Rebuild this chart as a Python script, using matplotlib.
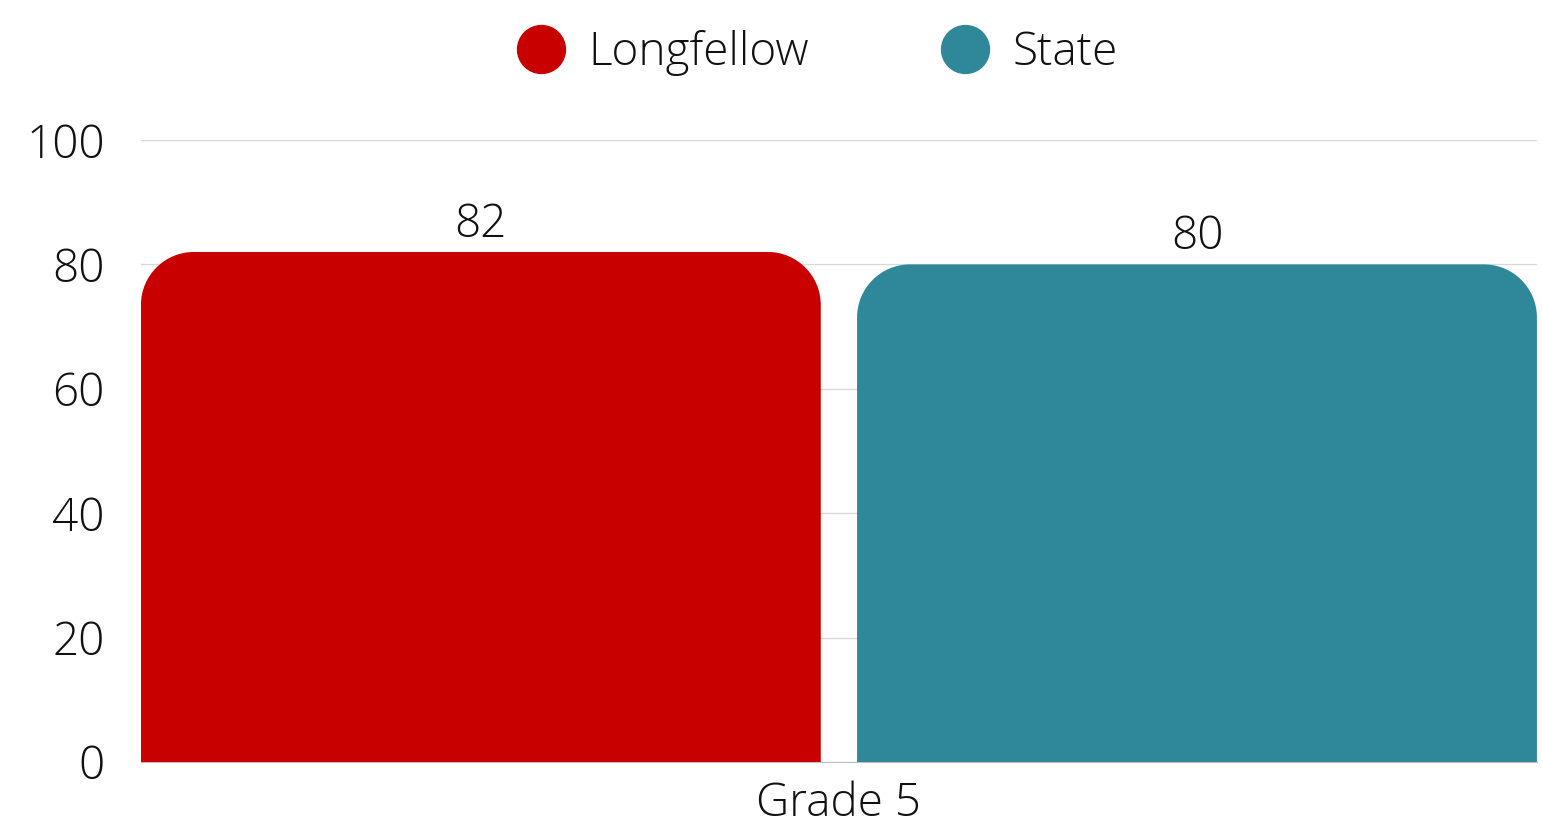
import matplotlib
matplotlib.use("Agg")
import matplotlib.pyplot as plt
from matplotlib.patches import PathPatch
from matplotlib.path import Path
from matplotlib.lines import Line2D

# Data
categories = ["Grade 5"]
series_names = ["Longfellow", "State"]
series_values = [82, 80]
colors = ["#C80000", "#2E8899"]
yticks = [0, 20, 40, 60, 80, 100]

plt.rcParams['font.family'] = ['Open Sans', 'DejaVu Sans']
plt.rcParams['font.weight'] = 300
fs = 33
tc = "#111111"

fig = plt.figure(figsize=(15.42, 8.26), dpi=100)
ax = fig.add_axes([0.0914, 0.0775, 0.9053, 0.753])

bar_w = 0.487
offsets = [-0.2565, 0.2565]
bars = []
for off, v, c in zip(offsets, series_values, colors):
    b = ax.bar([off], [v], width=bar_w, color=c, zorder=3)
    bars.append(b[0])

ax.set_xlim(-0.5, 0.5)
ax.set_ylim(0, 100)


def top_rounded(x0, w, h, rx, ry):
    # bar with round top corners, circular arcs (cubic approximations)
    k = 0.5523
    x1 = x0 + w
    verts = [(x0, 0), (x0, h - ry),
             (x0, h - ry + k * ry), (x0 + rx - k * rx, h), (x0 + rx, h),
             (x1 - rx, h),
             (x1 - rx + k * rx, h), (x1, h - ry + k * ry), (x1, h - ry),
             (x1, 0), (x0, 0)]
    codes = [Path.MOVETO, Path.LINETO,
             Path.CURVE4, Path.CURVE4, Path.CURVE4,
             Path.LINETO,
             Path.CURVE4, Path.CURVE4, Path.CURVE4,
             Path.LINETO, Path.CLOSEPOLY]
    return Path(verts, codes)


# pixel scale of the axes, so the corners come out circular
fig.canvas.draw()
bb = ax.get_window_extent()
px_x = bb.width / 1.0
px_y = bb.height / 100.0
r_px = 53
for rect, c in zip(bars, colors):
    x0 = rect.get_x()
    w = rect.get_width()
    h = rect.get_height()
    rect.set_visible(False)
    p = PathPatch(top_rounded(x0, w, h, r_px / px_x, r_px / px_y),
                  facecolor=c, edgecolor="none", zorder=3)
    ax.add_patch(p)
    ax.annotate(str(int(h)), (x0 + w / 2, h), xytext=(0, 11),
                textcoords="offset points", ha="center", va="baseline",
                fontsize=fs, color=tc, zorder=4)

ax.set_yticks(yticks)
ax.set_yticklabels([str(t) for t in yticks], fontsize=fs, color=tc)
ax.set_xticks([0])
ax.set_xticklabels(categories, fontsize=fs, color=tc)
ax.tick_params(axis="both", length=0)
ax.tick_params(axis="y", pad=26)
ax.tick_params(axis="x", pad=14)
ax.grid(axis="y", color="#d9d9d9", linewidth=1, zorder=0)
for s in ["top", "right", "left"]:
    ax.spines[s].set_visible(False)
ax.spines["bottom"].set_color("#bfbfbf")
ax.spines["bottom"].set_zorder(2)

handles = [Line2D([], [], marker="o", linestyle="none", markersize=34.5,
                  markerfacecolor=c, markeredgecolor=c) for c in colors]
fig.legend(handles, series_names, loc="center", bbox_to_anchor=(0.530, 0.936),
           ncol=2, frameon=False, fontsize=fs, handletextpad=0.5,
           columnspacing=2.9, handlelength=1.05, labelcolor=tc)

fig.savefig("out.png", dpi=100)
